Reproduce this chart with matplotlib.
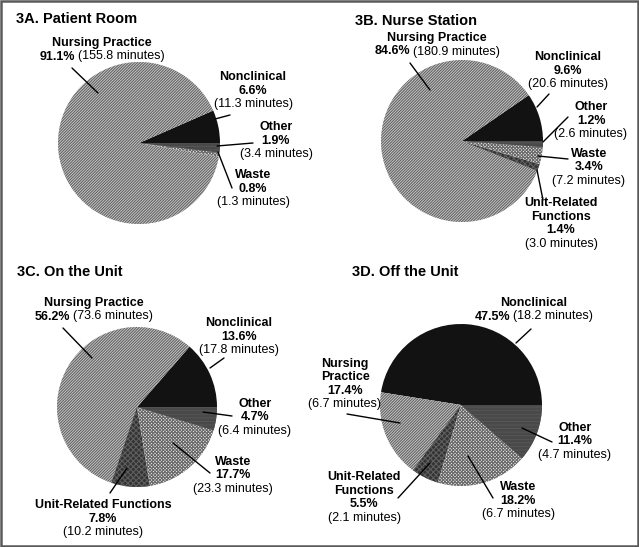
import matplotlib
matplotlib.use("Agg")
import matplotlib.pyplot as plt
from matplotlib.patches import Rectangle

plt.rcParams['font.family'] = ['Liberation Sans', 'DejaVu Sans']
plt.rcParams['hatch.linewidth'] = 0.8

W, H = 639, 547          # figure size in pixels (dpi 100)

# slice order, counterclockwise starting at 3 o'clock
categories = ['Nonclinical', 'Nursing Practice', 'Unit-Related Functions', 'Waste', 'Other']

titles = ['3A. Patient Room', '3B. Nurse Station', '3C. On the Unit', '3D. Off the Unit']

# percent of time (None = not present)
pct_room = [6.6, 91.1, None, 0.8, 1.9]
pct_station = [9.6, 84.6, 1.4, 3.4, 1.2]
pct_unit = [13.6, 56.2, 7.8, 17.7, 4.7]
pct_off = [47.5, 17.4, 5.5, 18.2, 11.4]

# minutes
min_room = [11.3, 155.8, None, 1.3, 3.4]
min_station = [20.6, 180.9, 3.0, 7.2, 2.6]
min_unit = [17.8, 73.6, 10.2, 23.3, 6.4]
min_off = [18.2, 6.7, 2.1, 6.7, 4.7]

# fills: face colour, hatch, hatch colour
styles = {
    'Nonclinical': ('#121212', None, '#121212'),
    'Nursing Practice': ('#cdcdcd', '/' * 12, '#636363'),
    'Unit-Related Functions': ('#333333', 'x' * 6, '#5e5e5e'),
    'Waste': ('#f0f0f0', 'x' * 10, '#6a6a6a'),
    'Other': ('#2c2c2c', '-' * 12, '#555555'),
}

FS = 9          # label font size
TFS = 10.5      # title font size
STEP = 13.5     # label line spacing (px)

# layout in pixels from the top-left corner of the picture
# label: (shown name, pct and minutes on one line?, text x, first line y, leader inner pt, leader outer pt)
panels = [
    dict(title=titles[0], tpos=(16, 19), center=(139, 143), r=81, pct=pct_room, mins=min_room,
         labels={
             'Nursing Practice': ('Nursing Practice', True, 102, 43, (98, 93), (72, 68)),
             'Nonclinical': ('Nonclinical', False, 253, 77, (215, 119), (230, 115)),
             'Other': ('Other', False, 276, 127, (217, 146), (253, 143)),
             'Waste': ('Waste', False, 253, 175, (218, 152), (232, 188)),
         }),
    dict(title=titles[1], tpos=(355, 21), center=(462, 141), r=81, pct=pct_station, mins=min_station,
         labels={
             'Nursing Practice': ('Nursing Practice', True, 437, 38, (430, 90), (410, 63)),
             'Nonclinical': ('Nonclinical', False, 568, 57, (537, 107), (549, 94)),
             'Other': ('Other', False, 591, 107, (543, 142), (568, 117)),
             'Waste': ('Waste', False, 589, 154, (538, 156), (568, 159)),
             'Unit-Related Functions': ('Unit-Related\nFunctions', False, 561, 203, (537, 170), (543, 200)),
         }),
    dict(title=titles[2], tpos=(17, 272), center=(137, 407), r=80, pct=pct_unit, mins=min_unit,
         labels={
             'Nursing Practice': ('Nursing Practice', True, 94, 303, (92, 358), (63, 328)),
             'Nonclinical': ('Nonclinical', False, 239, 323, (210, 368), (224, 358)),
             'Other': ('Other', False, 255, 404, (203, 412), (232, 416)),
             'Waste': ('Waste', False, 233, 462, (173, 443), (210, 473)),
             'Unit-Related Functions': ('Unit-Related Functions', False, 103, 505, (127, 468), (110, 493)),
         }),
    dict(title=titles[3], tpos=(352, 272), center=(461, 405), r=81, pct=pct_off, mins=min_off,
         labels={
             'Nonclinical': ('Nonclinical', True, 534, 303, (516, 343), (531, 329)),
             'Nursing Practice': ('Nursing\nPractice', False, 345, 364, (400, 423), (347, 414)),
             'Unit-Related Functions': ('Unit-Related\nFunctions', False, 364, 477, (430, 463), (398, 498)),
             'Waste': ('Waste', False, 518, 487, (468, 456), (493, 498)),
             'Other': ('Other', False, 575, 428, (522, 428), (552, 442)),
         }),
]


def P(x, y):
    return x, H - y


fig = plt.figure(figsize=(W / 100, H / 100), dpi=100)
ax = fig.add_axes([0, 0, 1, 1])
renderer = fig.canvas.get_renderer()


def put_line(x, y, segs):
    if len(segs) == 1:
        ax.text(*P(x, y), segs[0][0], ha='center', va='center',
                fontsize=FS, fontweight=segs[0][1])
        return
    texts = [ax.text(*P(0, y), s, ha='left', va='center', fontsize=FS, fontweight=w)
             for s, w in segs]
    widths = [t.get_window_extent(renderer).width for t in texts]
    gap = 3
    left = x - (sum(widths) + gap * (len(texts) - 1)) / 2
    for t, w in zip(texts, widths):
        t.set_x(left)
        left += w + gap


for pnl in panels:
    cats = [c for c, v in zip(categories, pnl['pct']) if v is not None]
    vals = [v for v in pnl['pct'] if v is not None]
    mins = [m for m in pnl['mins'] if m is not None]
    cx, cy = P(*pnl['center'])
    wedges, _ = ax.pie(vals, startangle=0, counterclock=True, center=(cx, cy),
                       radius=pnl['r'], wedgeprops=dict(linewidth=0))
    for w, c in zip(wedges, cats):
        fc, hatch, hc = styles[c]
        w.set_facecolor(fc)
        w.set_edgecolor(hc)
        w.set_linewidth(0)
        if hatch:
            w.set_hatch(hatch)

    ax.text(*P(*pnl['tpos']), pnl['title'], ha='left', va='center',
            fontsize=TFS, fontweight='bold')

    for c, v, m in zip(cats, vals, mins):
        name, inline, lx, ly, p_in, p_out = pnl['labels'][c]
        lines = [[(s, 'bold')] for s in name.split('\n')]
        pct_txt = f'{v:.1f}%'
        min_txt = f'({m:.1f} minutes)'
        if inline:
            lines.append([(pct_txt, 'bold'), (min_txt, 'normal')])
        else:
            lines.append([(pct_txt, 'bold')])
            lines.append([(min_txt, 'normal')])
        for i, segs in enumerate(lines):
            put_line(lx, ly + i * STEP, segs)
        ax.annotate('', xy=P(*p_in), xytext=P(*p_out),
                    arrowprops=dict(arrowstyle='-', color='black', lw=1,
                                    shrinkA=0, shrinkB=0))

ax.set_xlim(0, W)
ax.set_ylim(0, H)
ax.set_aspect('auto')
ax.axis('off')

ax.add_patch(Rectangle((1, 1), W - 2, H - 2, fill=False, edgecolor='#5a5a5a',
                       lw=1.8, clip_on=False))

fig.savefig('out.png', dpi=100)
